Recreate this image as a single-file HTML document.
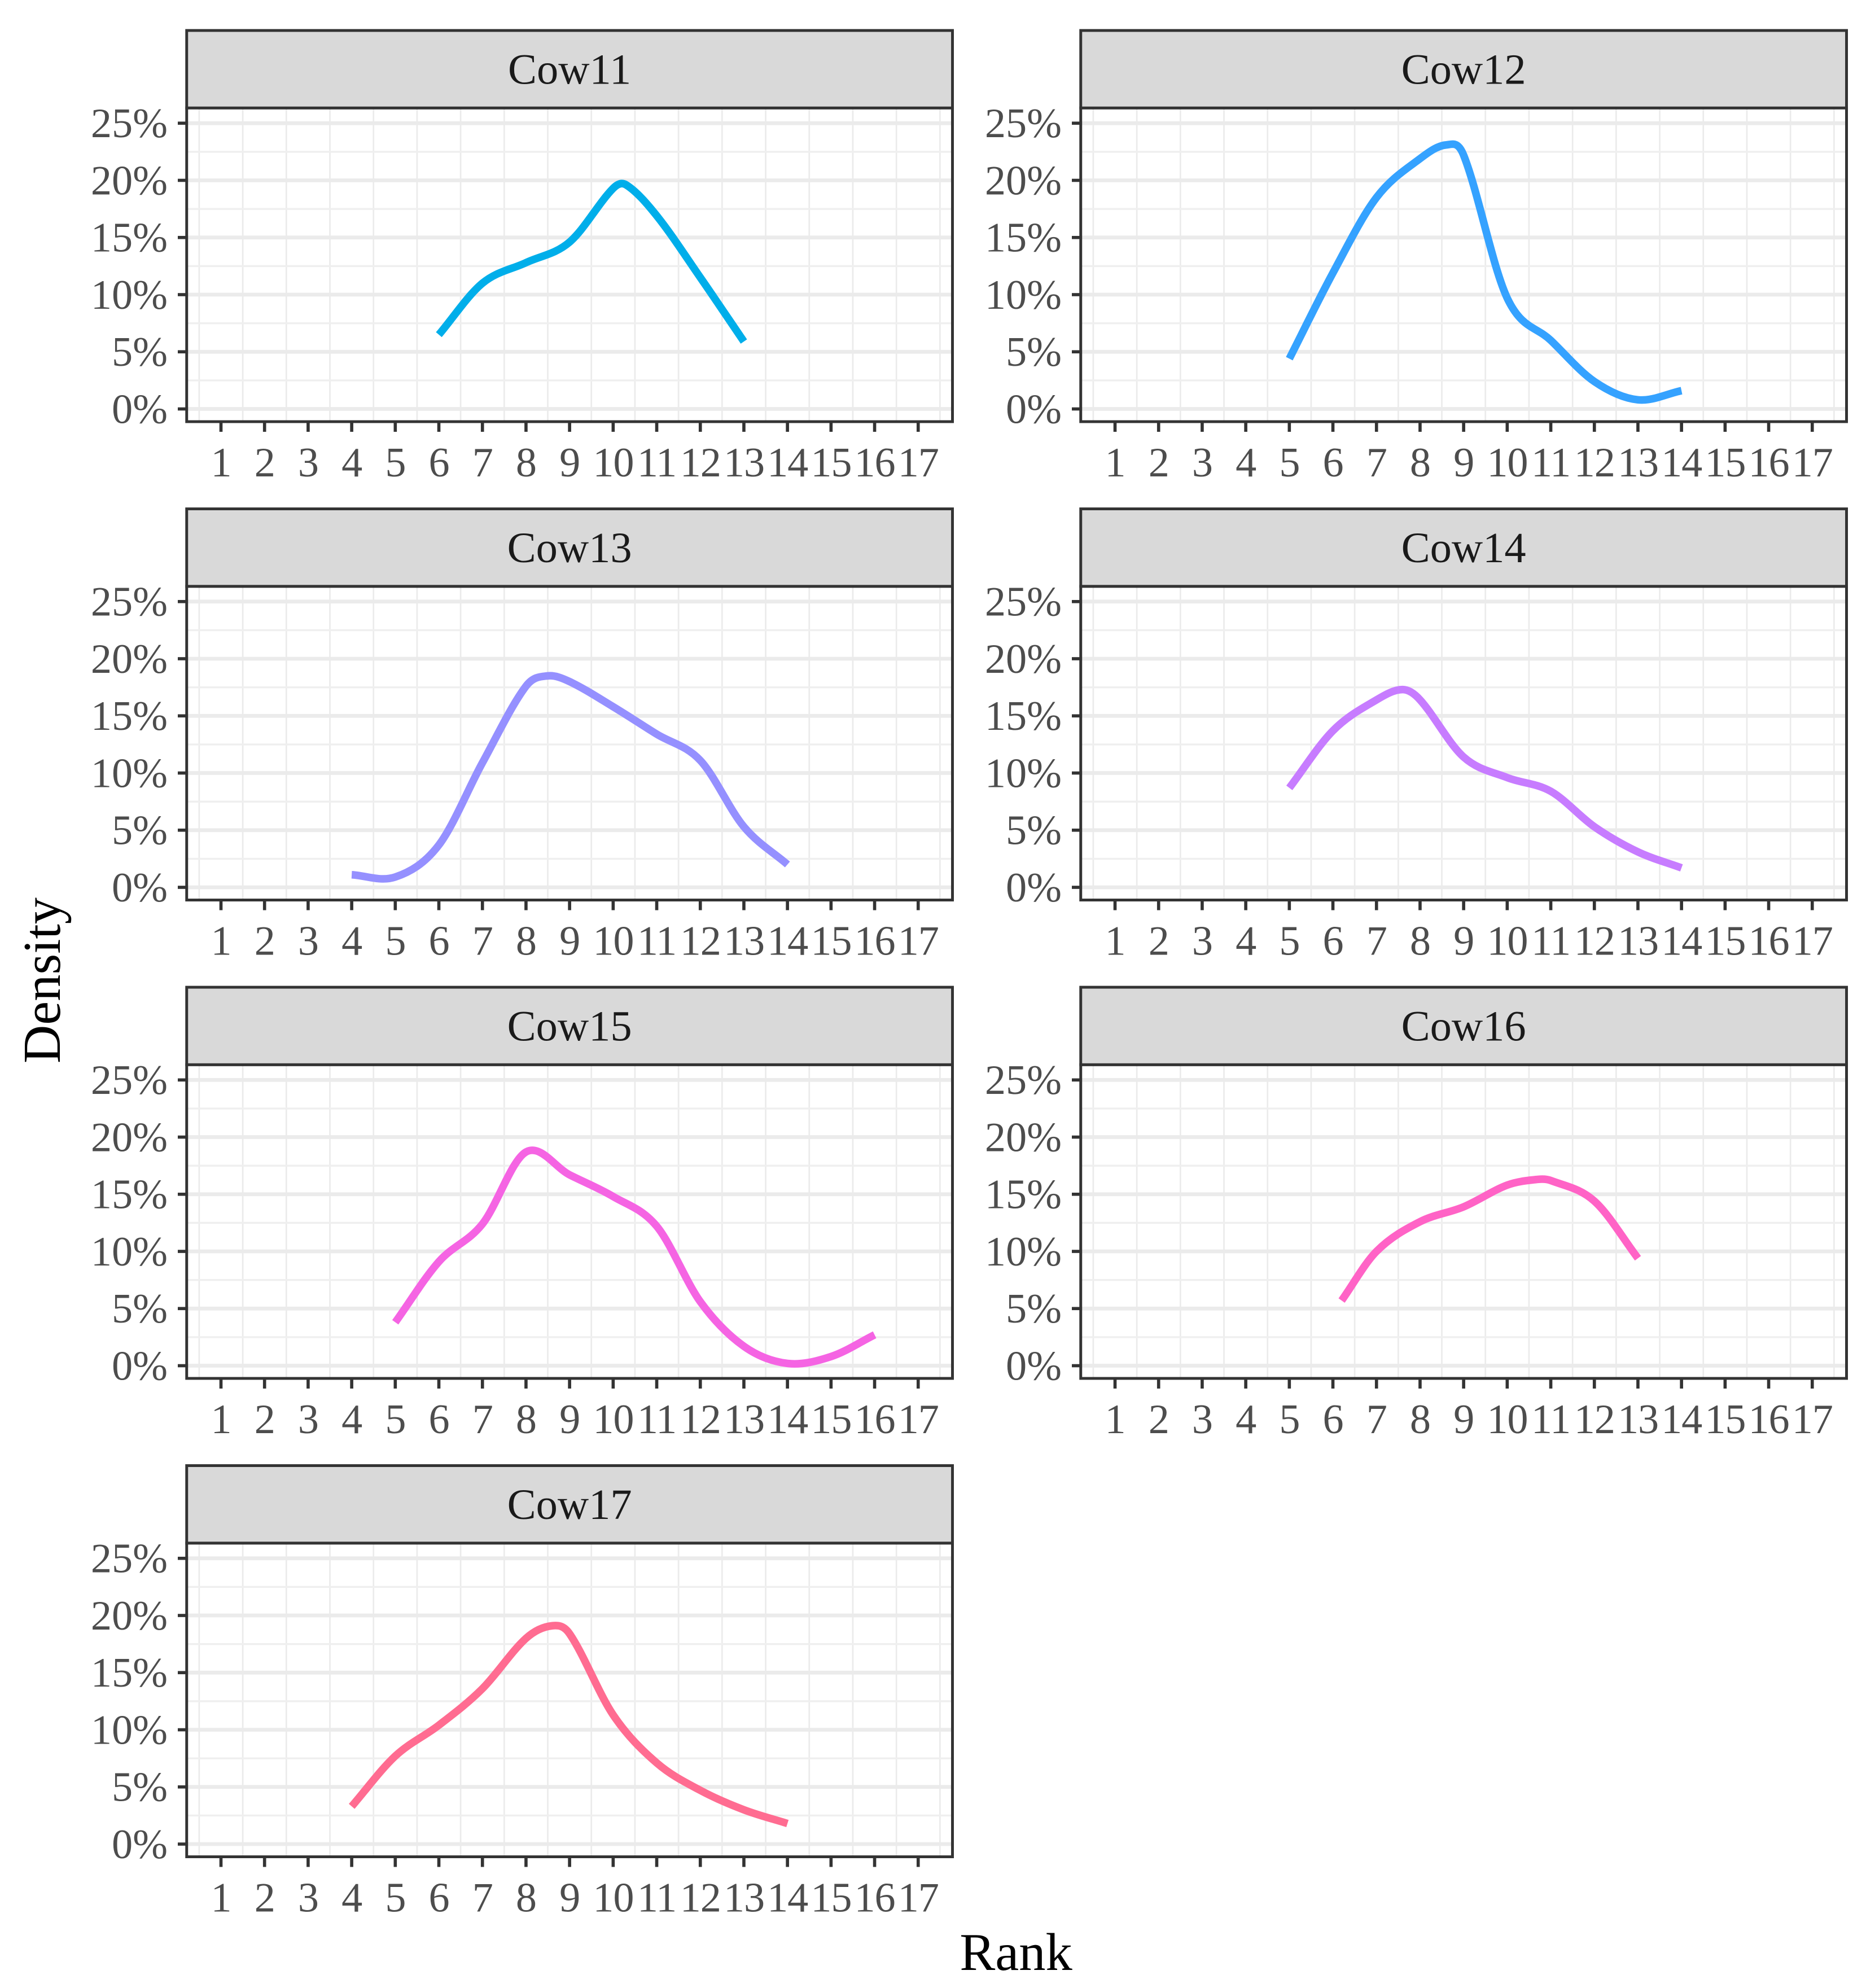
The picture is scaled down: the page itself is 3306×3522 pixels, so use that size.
<!DOCTYPE html>
<html><head><meta charset="utf-8"><style>html,body{margin:0;padding:0;background:#fff}svg{display:block}</style></head>
<body>
<svg id="chart" xmlns="http://www.w3.org/2000/svg" width="3306" height="3522" viewBox="0 0 1469.33 1565.33" font-family="'Liberation Serif', serif"></svg>
<script>
const panelNames = ["Cow11","Cow12","Cow13","Cow14","Cow15","Cow16","Cow17"];
const panelColors = ["#00AEEA","#35A2FF","#9590FF","#C77CFF","#F564E3","#FF63C6","#FF6C91"];
const xTicks = [1,2,3,4,5,6,7,8,9,10,11,12,13,14,15,16,17];
const yTicks = [0,5,10,15,20,25];
const cow11X = [6,7,8,9,10,10.3,11,12,13];
const cow11Y = [6.5,11,12.8,14.6,19.3,19.6,16.9,11.5,5.9];
const cow12X = [5,6,7,8,8.6,9,10,11,12,13,14];
const cow12Y = [4.4,11.9,18.5,21.9,23.1,22.2,9.7,6,2.4,0.8,1.6];
const cow13X = [4,5,6,7,8,8.5,9,10,11,12,13,14];
const cow13Y = [1.1,0.9,3.7,10.9,17.6,18.5,18,15.8,13.4,11.1,5.3,2];
const cow14X = [5,6,7,7.6,8,9,10,11,12,13,14];
const cow14Y = [8.7,13.7,16.4,17.3,16.4,11.4,9.6,8.4,5.3,3.1,1.7];
const cow15X = [5,6,7,8,9,10,11,12,13,14,15,16];
const cow15Y = [3.8,9.1,12.4,18.7,16.7,14.8,12.2,5.6,1.7,0.2,0.8,2.7];
const cow16X = [6.2,7,8,9,10,10.7,11,12,13];
const cow16Y = [5.7,10,12.6,13.9,15.8,16.3,16.2,14.4,9.4];
const cow17X = [4,5,6,7,8,8.6,9,10,11,12,13,14];
const cow17Y = [3.3,7.7,10.4,13.6,18,19.1,18.4,11.3,7.1,4.7,3,1.8];
const seriesX = [cow11X,cow12X,cow13X,cow14X,cow15X,cow16X,cow17X];
const seriesY = [cow11Y,cow12Y,cow13Y,cow14Y,cow15Y,cow16Y,cow17Y];

const svg = document.getElementById('chart');
const NS = 'http://www.w3.org/2000/svg';
function mk(tag, attrs, parent){const e=document.createElementNS(NS,tag);for(const k in attrs)e.setAttribute(k,attrs[k]);(parent||svg).appendChild(e);return e;}
const UNIT = (723-174)/16;
const YUNIT = 45/5;
function smoothPath(pts){
  const n=pts.length, m=[];
  for(let i=0;i<n;i++){
    const a=pts[Math.max(0,i-1)], b=pts[Math.min(n-1,i+1)];
    m.push((b[1]-a[1])/(b[0]-a[0]));
  }
  let d='M'+pts[0][0].toFixed(2)+','+pts[0][1].toFixed(2);
  for(let i=0;i<n-1;i++){
    const p1=pts[i],p2=pts[i+1],dx=(p2[0]-p1[0])/3;
    d+=' C'+(p1[0]+dx).toFixed(2)+','+(p1[1]+m[i]*dx).toFixed(2)+' '+(p2[0]-dx).toFixed(2)+','+(p2[1]-m[i+1]*dx).toFixed(2)+' '+p2[0].toFixed(2)+','+p2[1].toFixed(2);
  }
  return d;
}
panelNames.forEach((name,i)=>{
  const col=i%2,row=Math.floor(i/2);
  const L=col?851:147,R=L+603;
  const T=24+row*376.67;
  const g=mk('g',{});
  
  
  const xs=v=>L+27+(v-1)*UNIT;
  const ys=v=>T+298-v*YUNIT;
  const pTop=T+61,pBot=T+308;
  mk('rect',{x:L,y:pTop,width:603,height:247,fill:'#fff'},g);
  for(let k=0;k<=17;k++){const x=xs(k+0.5);if(x>L&&x<R)mk('line',{x1:x,x2:x,y1:pTop,y2:pBot,stroke:'#ebebeb','stroke-width':1.2},g);}
  for(let v=2.5;v<=27.5;v+=5){const y=ys(v);if(y>pTop)mk('line',{x1:L,x2:R,y1:y,y2:y,stroke:'#efefef','stroke-width':1.5},g);}
  yTicks.forEach(v=>{const y=ys(v);mk('line',{x1:L,x2:R,y1:y,y2:y,stroke:'#ebebeb','stroke-width':3},g);});
  const pts=seriesX[i].map((x,j)=>[xs(x),ys(seriesY[i][j])]);
  const p=mk('path',{d:smoothPath(pts),fill:'none',stroke:panelColors[i],'stroke-width':6,'stroke-linecap':'butt','stroke-linejoin':'round'},g);
  
  
  mk('rect',{x:L,y:pTop,width:603,height:247,fill:'none',stroke:'#333','stroke-width':2.2},g);
  const s=mk('rect',{x:L,y:T,width:603,height:61,fill:'#d9d9d9',stroke:'#333','stroke-width':2.2},g);
  
  
  const st=mk('text',{x:(L+R)/2,y:T+42,'text-anchor':'middle','font-size':34,fill:'#1a1a1a'},g);
  st.textContent=name;
  
  
  yTicks.forEach(v=>{const y=ys(v);
    mk('line',{x1:L-7,x2:L,y1:y,y2:y,stroke:'#333','stroke-width':2.5},g);
    const t=mk('text',{x:L-15,y:y+11,'text-anchor':'end','font-size':33,fill:'#4d4d4d'},g);
    t.textContent=v+'%';
    
    
  });
  xTicks.forEach(v=>{const x=xs(v);
    mk('line',{x1:x,x2:x,y1:pBot,y2:pBot+8,stroke:'#333','stroke-width':2.5},g);
    const t=mk('text',{x:x,y:pBot+43,'text-anchor':'middle','font-size':33,'letter-spacing':-0.5,fill:'#4d4d4d'},g);
    t.textContent=v;
    
    
  });
});
const yt=mk('text',{x:0,y:0,transform:'translate(47,772) rotate(-90)','text-anchor':'middle','font-size':42,fill:'#000'});
yt.textContent='Density';


const xt=mk('text',{x:800,y:1551,'text-anchor':'middle','font-size':42,fill:'#000'});
xt.textContent='Rank';


</script>
</body></html>
